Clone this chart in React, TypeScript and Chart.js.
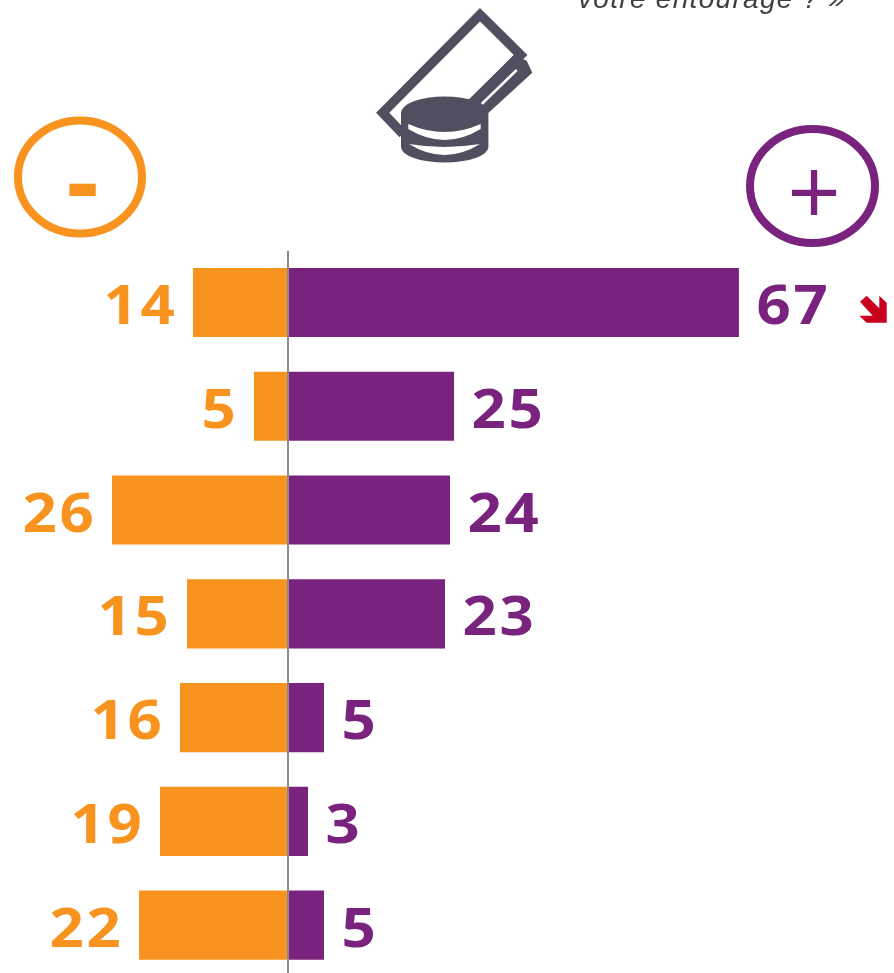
import React, { useEffect, useRef } from "react";
import { Chart, registerables } from "chart.js";

Chart.register(...registerables);

const categories = ["A", "B", "C", "D", "E", "F", "G"];
const negativeValues = [14.07, 5.04, 26.07, 14.96, 16, 18.96, 22.07];
const positiveValues = [66.8, 24.6, 24, 23.26, 5.33, 2.96, 5.33];
const negativeLabels = ["14", "5", "26", "15", "16", "19", "22"];
const positiveLabels = ["67", "25", "24", "23", "5", "3", "5"];
const topText = "votre entourage ? »";
const ORANGE = "#F7931E";
const PURPLE = "#7A237E";
const ICON = "#4F4F60";

function poly(ctx: CanvasRenderingContext2D, pts: number[][], close = true) {
  ctx.beginPath();
  pts.forEach((p, i) => (i ? ctx.lineTo(p[0], p[1]) : ctx.moveTo(p[0], p[1])));
  if (close) ctx.closePath();
}

function wideText(
  ctx: CanvasRenderingContext2D,
  text: string,
  x: number,
  y: number,
  sx: number,
  align: "left" | "right"
) {
  ctx.save();
  ctx.textAlign = align;
  ctx.translate(x, y);
  ctx.scale(sx, 1);
  ctx.fillText(text, 0, 0);
  ctx.restore();
}

function drawIcon(ctx: CanvasRenderingContext2D) {
  ctx.save();
  ctx.strokeStyle = ICON;
  ctx.fillStyle = ICON;
  ctx.lineJoin = "miter";
  ctx.lineWidth = 9.5;
  poly(ctx, [[403, 134], [382.7, 112.7], [480, 14.7], [520.7, 55], [470, 105]], false);
  ctx.stroke();
  // second card behind
  poly(ctx, [[514, 55], [526.7, 60.7], [532.3, 72.7], [488.3, 113], [470, 100]]);
  ctx.fill();
  ctx.strokeStyle = "#ffffff";
  ctx.lineWidth = 2.5;
  poly(ctx, [[516.7, 70], [481.7, 104]], false);
  ctx.stroke();
  // coins
  ctx.beginPath();
  ctx.moveTo(401, 113);
  ctx.ellipse(444.7, 113, 43.7, 16.5, 0, Math.PI, 2 * Math.PI);
  ctx.lineTo(488.4, 147);
  ctx.ellipse(444.7, 147, 43.7, 15.5, 0, 0, Math.PI);
  ctx.closePath();
  ctx.fill();
  ctx.fillStyle = "#ffffff";
  ctx.beginPath();
  ctx.moveTo(408.3, 124);
  ctx.quadraticCurveTo(444.5, 140, 480.7, 124);
  ctx.lineTo(480.7, 129);
  ctx.quadraticCurveTo(444.5, 151, 408.3, 129);
  ctx.closePath();
  ctx.fill();
  ctx.beginPath();
  ctx.moveTo(409, 144);
  ctx.quadraticCurveTo(444.5, 150, 480, 144);
  ctx.quadraticCurveTo(444.5, 166, 409, 144);
  ctx.closePath();
  ctx.fill();
  ctx.restore();
}

const overlay = {
  id: "overlay",
  afterDraw(chart: any) {
    const ctx: CanvasRenderingContext2D = chart.ctx;
    const x = chart.scales.x;
    const y = chart.scales.y;
    ctx.save();
    drawIcon(ctx);

    ctx.lineWidth = 8;
    ctx.strokeStyle = ORANGE;
    ctx.beginPath();
    ctx.ellipse(80, 177, 62, 56.5, 0, 0, 2 * Math.PI);
    ctx.stroke();
    ctx.strokeStyle = PURPLE;
    ctx.beginPath();
    ctx.ellipse(812.5, 186, 62.5, 57, 0, 0, 2 * Math.PI);
    ctx.stroke();

    ctx.textAlign = "center";
    ctx.textBaseline = "alphabetic";
    ctx.fillStyle = ORANGE;
    ctx.font = 'bold 100px "Open Sans"';
    ctx.fillText("-", 82.5, 217);
    ctx.fillStyle = PURPLE;
    ctx.font = '500 94px "Open Sans"';
    ctx.fillText("+", 814, 226);

    ctx.fillStyle = "#404040";
    ctx.font = 'italic 28px "Liberation Sans"';
    (ctx as any).letterSpacing = "1.3px";
    wideText(ctx, topText, 578, 8, 1, "left");

    ctx.font = 'bold 54.5px "Open Sans"';
    (ctx as any).letterSpacing = "2.5px";
    categories.forEach((_, i) => {
      const cy = y.getPixelForValue(i) + 21.5;
      ctx.fillStyle = ORANGE;
      wideText(ctx, negativeLabels[i], x.getPixelForValue(-negativeValues[i]) - 15.5, cy, 1.1, "right");
      ctx.fillStyle = PURPLE;
      wideText(ctx, positiveLabels[i], x.getPixelForValue(positiveValues[i]) + 17.5, cy, 1.1, "left");
    });
    (ctx as any).letterSpacing = "0px";

    ctx.fillStyle = "#C8001E";
    poly(ctx, [[860, 301.7], [866.7, 295.7], [879.3, 308.3], [879.3, 295.7], [886.7, 302.7], [886.7, 322.7], [866.7, 322.7], [859.3, 315.7], [872.7, 315.7]]);
    ctx.fill();
    ctx.restore();
  },
};

export default function App() {
  const ref = useRef<HTMLCanvasElement>(null);
  useEffect(() => {
    const chart = new Chart(ref.current as HTMLCanvasElement, {
      type: "bar",
      data: {
        labels: categories,
        datasets: [
          { data: negativeValues.map((v) => -v), backgroundColor: ORANGE, borderWidth: 0 },
          { data: positiveValues, backgroundColor: PURPLE, borderWidth: 0 },
        ],
      },
      options: {
        indexAxis: "y",
        responsive: false,
        animation: false,
        layout: { padding: { top: 250.7, left: 0, right: 0, bottom: 0 } },
        datasets: { bar: { barPercentage: 1, categoryPercentage: 0.6656 } },
        plugins: { legend: { display: false }, tooltip: { enabled: false } },
        scales: {
          x: {
            stacked: true,
            min: -42.67,
            max: 89.78,
            border: { display: false },
            ticks: { display: false },
            afterBuildTicks: (s: any) => {
              s.ticks = [{ value: 0 }];
            },
            grid: { color: "#8C8C8C", lineWidth: 2, drawTicks: false, z: 1 },
          },
          y: { stacked: true, display: false },
        },
      } as any,
      plugins: [overlay],
    });
    return () => chart.destroy();
  }, []);
  return (
    <div style={{ position: "absolute", left: 0, top: 0, width: 894, height: 973, overflow: "hidden", background: "#fff" }}>
      <canvas ref={ref} width={894} height={977} style={{ display: "block" }} />
    </div>
  );
}
